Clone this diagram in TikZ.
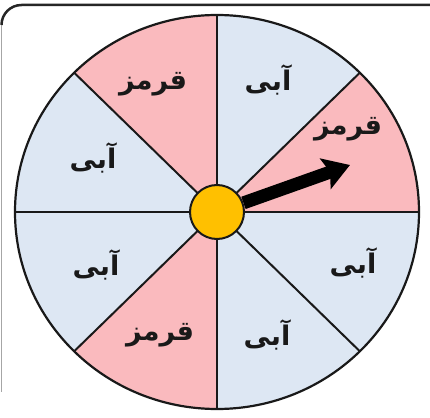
\documentclass[tikz,border=0pt]{standalone}
\usepackage{fontspec}
\usetikzlibrary{arrows.meta}
\TeXXeTstate=1
\newfontfamily\arabicfont[Script=Arabic]{DejaVu Sans}
\definecolor{redsec}{RGB}{250,186,190}
\definecolor{bluesec}{RGB}{221,231,243}
\definecolor{hubcol}{RGB}{255,192,0}
\tikzset{
  lbl/.style={font=\arabicfont\bfseries\fontsize{27}{30}\selectfont, text=black!90, inner sep=0pt},
  spoke/.style={line width=2pt, black!90},
  rim/.style={line width=2.2pt, black!90},
  pointer/.style={line width=13pt, black, -{Stealth[length=26pt,width=32pt,inset=5pt]}},
}
\newcommand{\sector}[2]{\fill[#2] (0,0) -- (#1:202pt and 197pt) arc[start angle=#1, end angle=#1+45, x radius=202pt, y radius=197pt] -- cycle;}
\begin{document}
\begin{tikzpicture}[x=1pt,y=1pt]
\useasboundingbox (-217,-205) rectangle (213,212);
\fill[white] (-217,-205) rectangle (213,212);
% frame
\draw[line width=2.5pt, black!85] (-215.5,187) arc[start angle=180, end angle=90, radius=20pt] -- (213,207);
\draw[line width=1pt, black!35] (-215.5,187) -- (-215.5,-180);
% sectors
\sector{0}{redsec}
\sector{45}{bluesec}
\sector{90}{redsec}
\sector{135}{bluesec}
\sector{180}{bluesec}
\sector{225}{redsec}
\sector{270}{bluesec}
\sector{315}{bluesec}
\foreach \a in {0,45,...,315} \draw[spoke] (0,0) -- (\a:202pt and 197pt);
\draw[rim] (0,0) ellipse[x radius=202pt, y radius=197pt];
% labels
\node[lbl] (l1) at (-64,128) {\beginR قرمز\endR};
\node[lbl] (l2) at (-124,54) {\beginR آبی\endR};
\node[lbl] (l3) at (51,132) {\beginR آبی\endR};
\node[lbl] (l4) at (131,83) {\beginR قرمز\endR};
\node[lbl] (l5) at (-121,-53) {\beginR آبی\endR};
\node[lbl] (l6) at (-57,-123) {\beginR قرمز\endR};
\node[lbl] (l7) at (136,-51) {\beginR آبی\endR};
\node[lbl] (l8) at (50,-123) {\beginR آبی\endR};
% hub and pointer
\node[circle, minimum size=54pt, inner sep=0pt, fill=hubcol, draw=black!90, line width=2pt] (hub) at (0,0) {};
\coordinate (tip) at (133,47);
\draw[pointer] (hub.19) -- (tip);
\end{tikzpicture}
\end{document}
